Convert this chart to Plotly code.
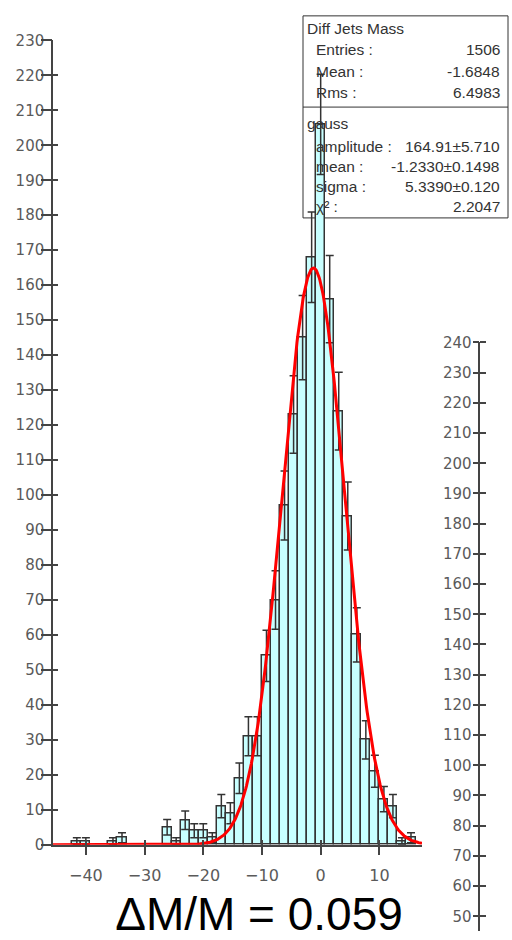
import numpy as np
import plotly.graph_objects as go

# ---------------- data ----------------
hist_low, hist_high, n_bins = -50.0, 50.0, 65
counts = [0, 0, 0, 0, 0, 1, 1, 0, 0, 1, 2, 0, 0, 0, 0, 5, 1, 7, 4, 4,
          2, 11, 9, 19, 31, 31, 54, 70, 97, 123, 145, 168, 206, 156, 124, 94, 60, 30, 21, 13,
          11, 1, 2, 0, 0, 0, 0, 0, 0, 0, 0, 0, 0, 0, 0, 0, 0, 0, 0, 0,
          0, 0, 0, 0, 0]

fit_amplitude = 164.91
fit_mean = -1.2330
fit_sigma = 5.3390

x_tick_values = [-40, -30, -20, -10, 0, 10]
x_range = [-45.6, 17.26]
y_range = [0, 230]
right_axis_range = [45.13, 240]

stats_title = "Diff Jets Mass"
stats_labels = ["Entries :", "Mean :", "Rms :"]
stats_values = ["1506", "-1.6848", "6.4983"]
fit_title = "gauss"
fit_labels = ["amplitude :", "mean :", "sigma :", "\u03c7\u00b2 :"]
fit_values = ["164.91\u00b15.710", "-1.2330\u00b10.1498", "5.3390\u00b10.120", "2.2047"]
resolution_text = "\u0394M/M = 0.059"

# ---------------- derived ----------------
W, H = 512, 940
bin_w = (hist_high - hist_low) / n_bins
centers = [hist_low + (i + 0.5) * bin_w for i in range(n_bins)]
bar_y = [c if c > 0 else None for c in counts]
bar_err = [float(np.sqrt(c)) if c > 0 else None for c in counts]

def px(x):
    return x / W

def py(y):
    return 1 - y / H

AX = "#444444"
TICKFONT = dict(family="DejaVu Sans", size=15, color="#5a5a5a")
XTICKFONT = dict(family="DejaVu Sans", size=16, color="#5a5a5a")

fig = go.Figure()

fig.add_trace(go.Bar(
    x=centers, y=bar_y, width=bin_w,
    marker=dict(color="#c8ffff", line=dict(color="#333333", width=1.5)),
    error_y=dict(type="data", array=bar_err, visible=True, color="#333333",
                 thickness=1.5, width=4),
    showlegend=False, hoverinfo="skip",
))

xs = np.linspace(x_range[0], x_range[1], 600)
ys = fit_amplitude * np.exp(-0.5 * ((xs - fit_mean) / fit_sigma) ** 2)
fig.add_trace(go.Scatter(x=xs, y=ys, mode="lines",
                         line=dict(color="#ff0000", width=3),
                         showlegend=False, hoverinfo="skip"))

# dummy traces to register overlay / extra subplots
for xa, ya in [("x3", "y"), ("x", "y2"), ("x", "y5"), ("x2", "y3"), ("x2", "y4"), ("x2", "y6")]:
    fig.add_trace(go.Scatter(x=[None], y=[None], xaxis=xa, yaxis=ya,
                             showlegend=False, hoverinfo="skip"))

xdom = [px(53), px(422)]
ydom = [py(852), py(32)]
rpos = px(479.3)

def ghost_y(overlay, anchor, ticks, ticklen, rng, position=None, side="left"):
    d = dict(overlaying=overlay, anchor=anchor, side=side, range=rng,
             tick0=0, dtick=10, ticks=ticks, ticklen=ticklen, tickwidth=1.5,
             tickcolor=AX, showticklabels=False, showline=False,
             showgrid=False, zeroline=False)
    if position is not None:
        d["position"] = position
    return d

fig.update_layout(
    width=W, height=H,
    margin=dict(l=0, r=0, t=0, b=0),
    paper_bgcolor="white", plot_bgcolor="rgba(0,0,0,0)",
    bargap=0,
    title=dict(text=resolution_text, x=px(259), xref="paper", xanchor="center",
               y=10 / H, yref="container", yanchor="bottom",
               pad=dict(t=0, b=0, l=0, r=0),
               font=dict(family="Liberation Sans", size=46, color="black")),
    xaxis=dict(domain=xdom, range=x_range, anchor="y",
               tickmode="array", tickvals=x_tick_values,
               ticks="outside", ticklen=9, tickwidth=1.5, tickcolor=AX,
               ticklabelstandoff=6,
               showline=True, linecolor=AX, linewidth=1.5,
               showgrid=False, zeroline=False, tickfont=XTICKFONT),
    xaxis3=dict(overlaying="x", anchor="y", range=x_range,
                tickmode="array", tickvals=x_tick_values,
                ticks="inside", ticklen=5, tickwidth=1.5, tickcolor=AX,
                showticklabels=False, showline=False, showgrid=False, zeroline=False),
    yaxis=dict(domain=ydom, range=y_range, anchor="x",
               tick0=0, dtick=10,
               ticks="outside", ticklen=8, tickwidth=1.5, tickcolor=AX,
               ticklabelstandoff=-4,
               showline=True, linecolor=AX, linewidth=1.5,
               showgrid=False, zeroline=False, tickfont=TICKFONT),
    yaxis2=ghost_y("y", "x", "outside", 11, y_range),
    yaxis5=ghost_y("y", "x", "inside", 5, y_range),
    xaxis2=dict(domain=[0.95, 1.0], anchor="y3", visible=False, range=[0, 1]),
    yaxis3=dict(domain=[0.0, py(340)], range=right_axis_range, anchor="free",
                position=rpos, side="left",
                tick0=0, dtick=10,
                ticks="outside", ticklen=4, tickwidth=1.5, tickcolor=AX,
                showline=True, linecolor=AX, linewidth=1.5,
                showgrid=False, zeroline=False, tickfont=TICKFONT),
    yaxis4=ghost_y("y3", "free", "outside", 6, right_axis_range, position=rpos, side="right"),
    yaxis6=ghost_y("y3", "free", "outside", 6, right_axis_range, position=rpos, side="left"),
)

# stats box
box_l, box_r, box_t, box_b, box_sep = 303, 508, 7, 213, 100
fig.add_shape(type="rect", xref="paper", yref="paper",
              x0=px(box_l), x1=px(box_r), y0=py(box_b), y1=py(box_t),
              line=dict(color="#333333", width=1), layer="below")
fig.add_shape(type="line", xref="paper", yref="paper",
              x0=px(box_l), x1=px(box_r), y0=py(box_sep), y1=py(box_sep),
              line=dict(color="#333333", width=1), layer="below")

SFONT = dict(family="Liberation Sans", size=15.5, color="#333333")

def txt(x, y, s, anchor):
    fig.add_annotation(x=px(x), y=py(y), xref="paper", yref="paper", text=s,
                       showarrow=False, xanchor=anchor, yanchor="middle",
                       font=SFONT)

txt(305, 20, stats_title, "left")
for i, (lab, val) in enumerate(zip(stats_labels, stats_values)):
    yy = 41.7 + i * 21.6
    txt(314, yy, lab, "left")
    txt(502, yy, val, "right")
txt(305, 117, fit_title, "left")
for i, (lab, val) in enumerate(zip(fit_labels, fit_values)):
    yy = 140 + i * 20.6
    txt(314, yy, lab, "left")
    txt(502, yy, val, "right")

fig.write_html("out.html", config={"displayModeBar": False})
